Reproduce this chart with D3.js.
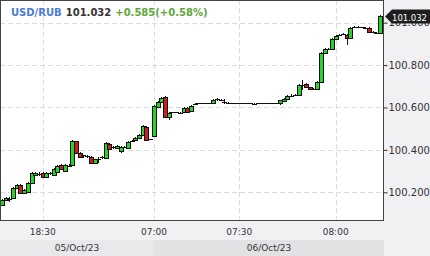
<!DOCTYPE html>
<html>
<head>
<meta charset="utf-8">
<script src="https://cdn.jsdelivr.net/npm/d3@7"></script>
<style>
  body { margin: 0; background: #f1f1f3; }
  svg { display: block; font-family: "DejaVu Sans", sans-serif; }
</style>
</head>
<body>
<svg id="chart" width="430" height="256"></svg>
<script>
// 1-minute candles
const opens = [100.141,100.164,100.168,100.173,100.220,100.234,100.197,100.202,100.244,100.283,
  100.287,100.291,100.273,100.290,100.282,100.296,100.329,100.301,100.325,100.329,
  100.440,100.385,100.367,100.372,100.368,100.338,100.360,100.364,100.362,100.430,
  100.408,100.410,100.395,100.414,100.412,100.440,100.449,100.458,100.470,100.508,
  100.450,100.465,100.603,100.626,100.650,100.555,100.577,100.578,100.574,100.578,
  100.598,100.583,100.617,100.620,100.621,100.621,100.622,100.621,100.634,100.637,
  100.627,100.622,100.621,100.620,100.619,100.619,100.620,100.619,100.619,100.618,
  100.619,100.619,100.620,100.619,100.619,100.617,100.633,100.641,100.654,100.658,
  100.659,100.706,100.711,100.697,100.687,100.687,100.720,100.857,100.876,100.876,
  100.923,100.940,100.946,100.942,100.930,100.978,100.980,100.979,100.977,100.975,
  100.955,100.953,100.950];
const highs = [100.170,100.176,100.178,100.224,100.238,100.238,100.214,100.248,100.294,100.295,
  100.296,100.294,100.294,100.298,100.313,100.327,100.332,100.332,100.333,100.446,
  100.444,100.388,100.378,100.378,100.372,100.358,100.366,100.370,100.437,100.434,
  100.416,100.421,100.416,100.420,100.441,100.446,100.461,100.473,100.516,100.511,
  100.453,100.610,100.629,100.648,100.653,100.578,100.581,100.580,100.577,100.601,
  100.601,100.610,100.620,100.623,100.622,100.623,100.623,100.640,100.643,100.641,
  100.640,100.624,100.623,100.621,100.620,100.621,100.621,100.620,100.620,100.620,
  100.620,100.621,100.621,100.620,100.620,100.636,100.644,100.657,100.665,100.662,
  100.709,100.730,100.714,100.699,100.690,100.723,100.860,100.879,100.880,100.926,
  100.940,100.945,100.950,100.946,100.978,100.983,100.983,100.981,100.979,100.978,
  100.960,100.958,101.035];
const lows = [100.133,100.160,100.155,100.168,100.216,100.192,100.193,100.198,100.240,100.279,
  100.278,100.270,100.270,100.282,100.278,100.292,100.306,100.297,100.318,100.325,
  100.382,100.363,100.364,100.362,100.334,100.334,100.340,100.356,100.358,100.404,
  100.404,100.407,100.385,100.409,100.408,100.435,100.445,100.455,100.466,100.444,
  100.447,100.461,100.600,100.622,100.552,100.541,100.573,100.574,100.569,100.575,
  100.577,100.580,100.614,100.618,100.619,100.620,100.620,100.618,100.631,100.633,
  100.616,100.620,100.619,100.618,100.618,100.617,100.618,100.618,100.617,100.617,
  100.618,100.617,100.618,100.618,100.617,100.614,100.630,100.638,100.650,100.655,
  100.656,100.683,100.694,100.685,100.684,100.684,100.716,100.853,100.872,100.872,
  100.920,100.936,100.942,100.895,100.926,100.974,100.977,100.976,100.972,100.953,
  100.951,100.945,100.947];
const closes = [100.164,100.173,100.167,100.220,100.234,100.197,100.211,100.244,100.291,100.291,
  100.286,100.273,100.291,100.291,100.310,100.324,100.310,100.329,100.326,100.442,
  100.385,100.367,100.374,100.371,100.338,100.355,100.359,100.365,100.433,100.408,
  100.413,100.418,100.413,100.415,100.438,100.441,100.458,100.470,100.513,100.447,
  100.451,100.607,100.626,100.645,100.555,100.574,100.578,100.577,100.572,100.598,
  100.580,100.607,100.616,100.621,100.621,100.622,100.621,100.637,100.640,100.635,
  100.626,100.621,100.620,100.619,100.619,100.619,100.619,100.619,100.618,100.619,
  100.619,100.619,100.619,100.619,100.619,100.633,100.641,100.654,100.655,100.660,
  100.706,100.708,100.697,100.688,100.688,100.720,100.857,100.876,100.877,100.923,
  100.937,100.942,100.947,100.928,100.975,100.980,100.979,100.978,100.975,100.956,
  100.957,100.951,101.032];

const yTicks = [100.2, 100.4, 100.6, 100.8, 101.0];
const timeTickIdx = [11, 41, 64, 90];
const timeTickLabels = ['18:30', '07:00', '07:30', '08:00'];
const dateLabels = ['05/Oct/23', '06/Oct/23'];
const dateStartIdx = [0, 41];

const symbol = 'USD/RUB';
const lastPrice = 101.032;
const change = '+0.585';
const changePct = '(+0.58%)';

const svg = d3.select('#chart');
const plotW = 384, plotH = 221;
const n = closes.length;

const x = d3.scaleBand()
  .domain(d3.range(n))
  .range([0, 382]);
const y = d3.scaleLinear()
  .domain([100.0646, 101.107])
  .range([plotH, 0]);
const cx = i => x(i) + x.bandwidth() / 2;

// bottom strips for the two days
const dateEnd = dateStartIdx.slice(1).map(i => cx(i)).concat([plotW]);
svg.append('g').selectAll('rect')
  .data(dateLabels)
  .enter().append('rect')
  .attr('x', (d, k) => k === 0 ? 0 : cx(dateStartIdx[k]))
  .attr('y', 240)
  .attr('width', (d, k) => dateEnd[k] - (k === 0 ? 0 : cx(dateStartIdx[k])))
  .attr('height', 16)
  .attr('fill', (d, k) => k === 0 ? '#e9e9eb' : '#e2e2e4');

svg.append('g').selectAll('text')
  .data(dateLabels)
  .enter().append('text')
  .attr('x', (d, k) => ((k === 0 ? 0 : cx(dateStartIdx[k])) + dateEnd[k]) / 2)
  .attr('y', 251)
  .attr('text-anchor', 'middle')
  .attr('font-size', 9)
  .attr('fill', '#333')
  .text(d => d);

// plot background
svg.append('rect')
  .attr('x', 0).attr('y', 0)
  .attr('width', plotW).attr('height', plotH)
  .attr('fill', '#fff');

// grid
const grid = svg.append('g')
  .attr('stroke', '#dcdcdc')
  .attr('stroke-dasharray', '5,3')
  .attr('shape-rendering', 'crispEdges');
grid.selectAll('.h').data(yTicks).enter().append('line')
  .attr('x1', 0).attr('x2', plotW)
  .attr('y1', d => Math.round(y(d)) + 0.5)
  .attr('y2', d => Math.round(y(d)) + 0.5);
grid.selectAll('.v').data(timeTickIdx).enter().append('line')
  .attr('y1', 0).attr('y2', plotH)
  .attr('x1', d => Math.round(cx(d)) + 0.5)
  .attr('x2', d => Math.round(cx(d)) + 0.5);

// candles
const candles = svg.append('g').attr('shape-rendering', 'crispEdges');
const idx = d3.range(n);
candles.selectAll('.wick').data(idx).enter().append('line')
  .attr('x1', i => Math.round(cx(i)) + 0.5)
  .attr('x2', i => Math.round(cx(i)) + 0.5)
  .attr('y1', i => y(highs[i]))
  .attr('y2', i => y(lows[i]))
  .attr('stroke', '#111');

candles.selectAll('.body').data(idx).enter().append('rect')
  .attr('x', i => Math.round(cx(i)) - 1.5)
  .attr('y', i => Math.round(y(Math.max(opens[i], closes[i]))) + 0.5)
  .attr('width', 4)
  .attr('height', i => Math.max(1, Math.round(Math.abs(y(opens[i]) - y(closes[i])))))
  .attr('fill', i => closes[i] >= opens[i] ? '#27d327' : '#cc1d1d')
  .attr('stroke', '#111')
  .attr('display', i => Math.abs(y(opens[i]) - y(closes[i])) < 1.5 ? 'none' : null);

candles.selectAll('.doji').data(idx.filter(i => Math.abs(y(opens[i]) - y(closes[i])) < 1.5))
  .enter().append('line')
  .attr('x1', i => Math.round(cx(i)) - 2)
  .attr('x2', i => Math.round(cx(i)) + 3)
  .attr('y1', i => Math.round(y(closes[i])) + 0.5)
  .attr('y2', i => Math.round(y(closes[i])) + 0.5)
  .attr('stroke', '#111');

// frame
svg.append('rect')
  .attr('x', 0.5).attr('y', 0.5)
  .attr('width', plotW - 1).attr('height', plotH - 1)
  .attr('fill', 'none')
  .attr('stroke', '#444');

// y axis on the right
const yAxis = svg.append('g')
  .attr('transform', 'translate(' + (plotW - 0.5) + ',0)')
  .call(d3.axisRight(y).tickValues(yTicks).tickSize(4).tickFormat(d3.format('.3f')));
yAxis.select('.domain').remove();
yAxis.selectAll('line').attr('stroke', '#333');
yAxis.selectAll('text')
  .attr('x', 5)
  .attr('fill', '#333')
  .attr('font-size', 10)
  .attr('font-family', '"DejaVu Sans", sans-serif');

// time labels
svg.append('g').selectAll('text')
  .data(timeTickIdx)
  .enter().append('text')
  .attr('x', i => cx(i))
  .attr('y', 235)
  .attr('text-anchor', 'middle')
  .attr('font-size', 9)
  .attr('fill', '#333')
  .text((d, k) => timeTickLabels[k]);

// last price marker
const ly = Math.round(y(lastPrice)) + 0.5;
svg.append('path')
  .attr('d', 'M385,' + ly + ' L392,' + (ly - 7) + ' L430,' + (ly - 7) + ' L430,' + (ly + 7) + ' L392,' + (ly + 7) + ' Z')
  .attr('fill', '#1e1e1e');
svg.append('text')
  .attr('x', 392)
  .attr('y', ly + 4)
  .attr('font-size', 9.5)
  .attr('textLength', 35)
  .attr('lengthAdjust', 'spacingAndGlyphs')
  .attr('fill', '#fff')
  .text(d3.format('.3f')(lastPrice));

// title
const title = svg.append('text')
  .attr('x', 11)
  .attr('y', 16)
  .attr('font-size', 10)
  .attr('font-weight', 'bold');
title.append('tspan').attr('fill', '#4a7bd5').text(symbol);
title.append('tspan').attr('dx', 4).attr('fill', '#333').text(d3.format('.3f')(lastPrice));
title.append('tspan').attr('dx', 4).attr('fill', '#5ea63a').text(change + changePct);
</script>
</body>
</html>
